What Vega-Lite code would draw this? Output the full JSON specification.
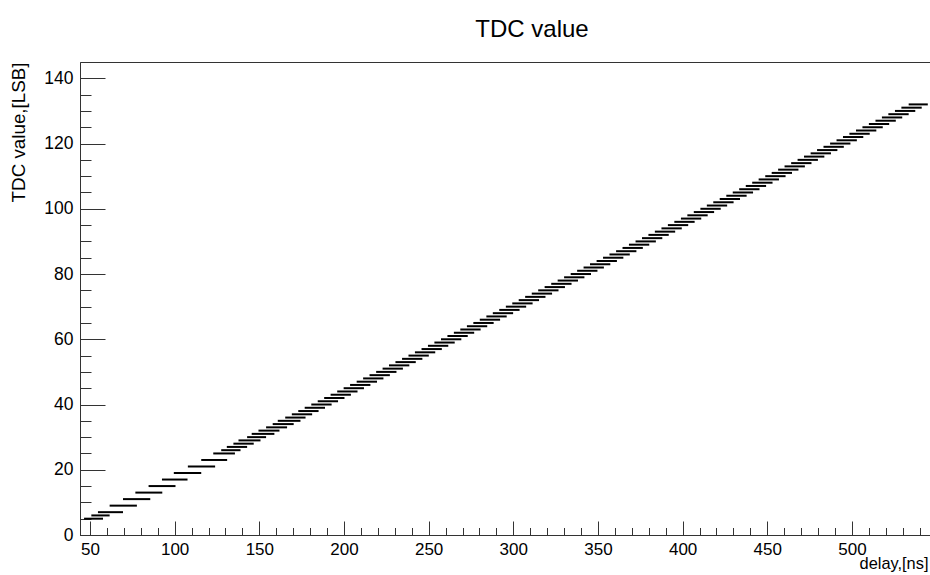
{
  "$schema": "https://vega.github.io/schema/vega-lite/v6.json",
  "width": 850,
  "height": 473,
  "autosize": {"type": "none"},
  "padding": {"left": 80, "top": 62, "right": 0, "bottom": 40},
  "background": "white",
  "config": {
    "view": {"stroke": "#333", "strokeWidth": 1},
    "font": "Liberation Sans",
    "axis": {"labelFont": "Liberation Sans", "titleFont": "Liberation Sans", "labelColor": "black", "titleColor": "black", "domainColor": "#333", "tickColor": "#333", "grid": false, "titleFontWeight": "normal"}
  },
  "title": {"text": "TDC value", "fontSize": 24, "fontWeight": "normal", "font": "Liberation Sans", "color": "black", "anchor": "middle", "dx": 27, "offset": 20},
  "data": {"values": [
    {"lsb": 5, "d0": 46.5, "d1": 57.7},
    {"lsb": 6, "d0": 50.8, "d1": 61.6},
    {"lsb": 7, "d0": 54.7, "d1": 69.5},
    {"lsb": 9, "d0": 61.6, "d1": 77.7},
    {"lsb": 11, "d0": 69.5, "d1": 85.6},
    {"lsb": 13, "d0": 76.8, "d1": 92.7},
    {"lsb": 15, "d0": 84.6, "d1": 100.5},
    {"lsb": 17, "d0": 92.5, "d1": 107.6},
    {"lsb": 19, "d0": 99.5, "d1": 115.7},
    {"lsb": 21, "d0": 107.8, "d1": 123.9},
    {"lsb": 23, "d0": 115.7, "d1": 131.0},
    {"lsb": 25, "d0": 122.8, "d1": 135.6},
    {"lsb": 26, "d0": 127.5, "d1": 138.9},
    {"lsb": 27, "d0": 130.8, "d1": 142.8},
    {"lsb": 28, "d0": 134.7, "d1": 146.7},
    {"lsb": 29, "d0": 137.7, "d1": 150.7},
    {"lsb": 30, "d0": 142.8, "d1": 154.0},
    {"lsb": 31, "d0": 145.5, "d1": 158.9},
    {"lsb": 32, "d0": 149.5, "d1": 161.9},
    {"lsb": 33, "d0": 154.0, "d1": 166.4},
    {"lsb": 34, "d0": 157.9, "d1": 170.3},
    {"lsb": 35, "d0": 160.9, "d1": 174.3},
    {"lsb": 36, "d0": 165.3, "d1": 177.3},
    {"lsb": 37, "d0": 169.2, "d1": 181.2},
    {"lsb": 38, "d0": 173.0, "d1": 185.0},
    {"lsb": 39, "d0": 176.8, "d1": 188.8},
    {"lsb": 40, "d0": 180.7, "d1": 192.7},
    {"lsb": 41, "d0": 184.5, "d1": 196.5},
    {"lsb": 42, "d0": 188.3, "d1": 200.3},
    {"lsb": 43, "d0": 192.1, "d1": 204.1},
    {"lsb": 44, "d0": 196.0, "d1": 208.0},
    {"lsb": 45, "d0": 199.8, "d1": 211.8},
    {"lsb": 46, "d0": 203.6, "d1": 215.6},
    {"lsb": 47, "d0": 207.5, "d1": 219.5},
    {"lsb": 48, "d0": 211.3, "d1": 223.3},
    {"lsb": 49, "d0": 215.1, "d1": 227.1},
    {"lsb": 50, "d0": 219.0, "d1": 231.0},
    {"lsb": 51, "d0": 222.8, "d1": 234.8},
    {"lsb": 52, "d0": 226.6, "d1": 238.6},
    {"lsb": 53, "d0": 230.4, "d1": 242.4},
    {"lsb": 54, "d0": 234.3, "d1": 246.3},
    {"lsb": 55, "d0": 238.1, "d1": 250.1},
    {"lsb": 56, "d0": 241.9, "d1": 253.9},
    {"lsb": 57, "d0": 245.8, "d1": 257.8},
    {"lsb": 58, "d0": 249.6, "d1": 261.6},
    {"lsb": 59, "d0": 253.4, "d1": 265.4},
    {"lsb": 60, "d0": 257.3, "d1": 269.3},
    {"lsb": 61, "d0": 261.1, "d1": 273.1},
    {"lsb": 62, "d0": 264.9, "d1": 276.9},
    {"lsb": 63, "d0": 268.7, "d1": 280.7},
    {"lsb": 64, "d0": 272.6, "d1": 284.6},
    {"lsb": 65, "d0": 276.4, "d1": 288.4},
    {"lsb": 66, "d0": 280.2, "d1": 292.2},
    {"lsb": 67, "d0": 284.1, "d1": 296.1},
    {"lsb": 68, "d0": 287.9, "d1": 299.9},
    {"lsb": 69, "d0": 291.7, "d1": 303.7},
    {"lsb": 70, "d0": 295.6, "d1": 307.6},
    {"lsb": 71, "d0": 299.4, "d1": 311.4},
    {"lsb": 72, "d0": 303.2, "d1": 315.2},
    {"lsb": 73, "d0": 307.0, "d1": 319.0},
    {"lsb": 74, "d0": 310.9, "d1": 322.9},
    {"lsb": 75, "d0": 314.7, "d1": 326.7},
    {"lsb": 76, "d0": 318.5, "d1": 330.5},
    {"lsb": 77, "d0": 322.4, "d1": 334.4},
    {"lsb": 78, "d0": 326.2, "d1": 338.2},
    {"lsb": 79, "d0": 330.0, "d1": 342.0},
    {"lsb": 80, "d0": 333.9, "d1": 345.9},
    {"lsb": 81, "d0": 337.7, "d1": 349.7},
    {"lsb": 82, "d0": 341.5, "d1": 353.5},
    {"lsb": 83, "d0": 345.3, "d1": 357.3},
    {"lsb": 84, "d0": 349.2, "d1": 361.2},
    {"lsb": 85, "d0": 353.0, "d1": 365.0},
    {"lsb": 86, "d0": 356.8, "d1": 368.8},
    {"lsb": 87, "d0": 360.7, "d1": 372.7},
    {"lsb": 88, "d0": 364.5, "d1": 376.5},
    {"lsb": 89, "d0": 368.3, "d1": 380.3},
    {"lsb": 90, "d0": 372.2, "d1": 384.2},
    {"lsb": 91, "d0": 376.0, "d1": 388.0},
    {"lsb": 92, "d0": 379.8, "d1": 391.8},
    {"lsb": 93, "d0": 383.6, "d1": 395.6},
    {"lsb": 94, "d0": 387.5, "d1": 399.5},
    {"lsb": 95, "d0": 391.3, "d1": 403.3},
    {"lsb": 96, "d0": 395.1, "d1": 407.1},
    {"lsb": 97, "d0": 399.0, "d1": 411.0},
    {"lsb": 98, "d0": 402.8, "d1": 414.8},
    {"lsb": 99, "d0": 406.6, "d1": 418.6},
    {"lsb": 100, "d0": 410.5, "d1": 422.5},
    {"lsb": 101, "d0": 414.3, "d1": 426.3},
    {"lsb": 102, "d0": 418.1, "d1": 430.1},
    {"lsb": 103, "d0": 421.9, "d1": 433.9},
    {"lsb": 104, "d0": 425.8, "d1": 437.8},
    {"lsb": 105, "d0": 429.6, "d1": 441.6},
    {"lsb": 106, "d0": 433.4, "d1": 445.4},
    {"lsb": 107, "d0": 437.3, "d1": 449.3},
    {"lsb": 108, "d0": 441.1, "d1": 453.1},
    {"lsb": 109, "d0": 444.9, "d1": 456.9},
    {"lsb": 110, "d0": 448.8, "d1": 460.8},
    {"lsb": 111, "d0": 452.6, "d1": 464.6},
    {"lsb": 112, "d0": 456.4, "d1": 468.4},
    {"lsb": 113, "d0": 460.2, "d1": 472.2},
    {"lsb": 114, "d0": 464.1, "d1": 476.1},
    {"lsb": 115, "d0": 467.9, "d1": 479.9},
    {"lsb": 116, "d0": 471.7, "d1": 483.7},
    {"lsb": 117, "d0": 475.6, "d1": 487.6},
    {"lsb": 118, "d0": 479.4, "d1": 491.4},
    {"lsb": 119, "d0": 483.2, "d1": 495.2},
    {"lsb": 120, "d0": 487.1, "d1": 499.1},
    {"lsb": 121, "d0": 490.9, "d1": 502.9},
    {"lsb": 122, "d0": 494.7, "d1": 506.7},
    {"lsb": 123, "d0": 498.5, "d1": 510.5},
    {"lsb": 124, "d0": 502.4, "d1": 514.4},
    {"lsb": 125, "d0": 506.2, "d1": 518.2},
    {"lsb": 126, "d0": 510.0, "d1": 522.0},
    {"lsb": 127, "d0": 513.9, "d1": 525.9},
    {"lsb": 128, "d0": 517.7, "d1": 529.7},
    {"lsb": 129, "d0": 521.5, "d1": 533.5},
    {"lsb": 130, "d0": 525.4, "d1": 537.4},
    {"lsb": 131, "d0": 529.2, "d1": 541.2},
    {"lsb": 132, "d0": 533.5, "d1": 544.8}
  ]},
  "resolve": {"axis": {"x": "independent", "y": "independent"}},
  "layer": [
    {
      "mark": {"type": "rule", "color": "black", "strokeWidth": 2, "strokeCap": "butt"},
      "encoding": {
        "x": {"field": "d0", "type": "quantitative", "scale": {"domain": [44.1, 546.1], "nice": false, "zero": false},
              "axis": {"orient": "bottom", "values": [50, 100, 150, 200, 250, 300, 350, 400, 450, 500], "tickSize": -14, "labelPadding": 20, "labelFontSize": 17, "title": "delay,[ns]", "titleFontSize": 16.4, "titleX": 848, "titleY": 33, "titleAlign": "right", "titleBaseline": "alphabetic", "domain": true}},
        "x2": {"field": "d1"},
        "y": {"field": "lsb", "type": "quantitative", "scale": {"domain": [0, 145], "nice": false, "zero": false},
              "axis": {"orient": "left", "values": [0, 20, 40, 60, 80, 100, 120, 140], "tickSize": -25, "labelPadding": 32, "labelFontSize": 17.5, "title": "TDC value,[LSB]", "titleFontSize": 18.8, "titleAnchor": "end", "titlePadding": 15, "domain": true}}
      }
    },
    {
      "mark": {"type": "rule", "opacity": 0},
      "encoding": {
        "x": {"field": "d0", "type": "quantitative",
              "axis": {"orient": "bottom", "values": [60, 70, 80, 90, 110, 120, 130, 140, 160, 170, 180, 190, 210, 220, 230, 240, 260, 270, 280, 290, 310, 320, 330, 340, 360, 370, 380, 390, 410, 420, 430, 440, 460, 470, 480, 490, 510, 520, 530, 540], "tickSize": -7.5, "labels": false, "title": null, "domain": false}},
        "x2": {"field": "d1"},
        "y": {"field": "lsb", "type": "quantitative",
              "axis": {"orient": "left", "values": [5, 10, 15, 25, 30, 35, 45, 50, 55, 65, 70, 75, 85, 90, 95, 105, 110, 115, 125, 130, 135], "tickSize": -11, "labels": false, "title": null, "domain": false}}
      }
    }
  ]
}
